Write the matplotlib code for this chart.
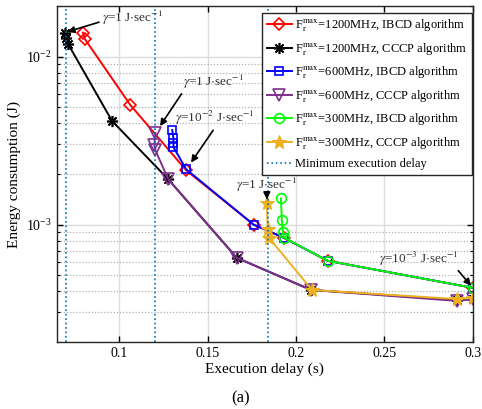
import numpy as np
import matplotlib
matplotlib.use("Agg")
import matplotlib.pyplot as plt
from matplotlib.ticker import LogLocator, NullFormatter, FixedLocator

plt.rcParams['font.family'] = 'serif'
plt.rcParams['font.serif'] = ['Liberation Serif', 'DejaVu Serif']
plt.rcParams['mathtext.fontset'] = 'stix'

# data
ibcd_1200_delay = [0.0795, 0.0807, 0.1063, 0.138, 0.176, 0.193, 0.218, 0.3]
ibcd_1200_energy = [0.0139, 0.0127, 0.00516, 0.0021, 0.00100, 0.000836, 0.000608, 0.00042]

cccp_1200_delay = [0.0693, 0.0699, 0.071, 0.096, 0.1278, 0.1665, 0.2085, 0.291, 0.3]
cccp_1200_energy = [0.0139, 0.0130, 0.01197, 0.00414, 0.00186, 0.000634, 0.000408, 0.000356, 0.00036]

ibcd_600_delay = [0.130, 0.1307, 0.1307, 0.1307, 0.138, 0.176, 0.193, 0.218, 0.3]
ibcd_600_energy = [0.00366, 0.00327, 0.00305, 0.00289, 0.00213, 0.00100, 0.000836, 0.000608, 0.00042]

cccp_600_delay = [0.1205, 0.1199, 0.1205, 0.1278, 0.1665, 0.2085, 0.291, 0.3]
cccp_600_energy = [0.00351, 0.00297, 0.00277, 0.00186, 0.000634, 0.000408, 0.000351, 0.00036]

ibcd_300_delay = [0.1915, 0.192, 0.1926, 0.1932, 0.218, 0.3]
ibcd_300_energy = [0.00143, 0.00106, 0.000908, 0.000836, 0.000608, 0.00042]

cccp_300_delay = [0.1835, 0.184, 0.1847, 0.209, 0.291, 0.3]
cccp_300_energy = [0.001336, 0.000946, 0.000836, 0.000408, 0.00036, 0.000367]

min_delays = [0.0699, 0.1205, 0.184]

fig = plt.figure(figsize=(4.82, 4.09), dpi=100)
ax = fig.add_axes([0.118, 0.164, 0.863, 0.821])

lw = 1.4
ax.plot(ibcd_1200_delay, ibcd_1200_energy, color='#FF0000', lw=lw, marker='D', ms=6,
        mfc='none', mew=1.2, label=r'F$_\mathrm{r}^\mathrm{max}$=1200MHz, IBCD algorithm')
ax.plot(cccp_1200_delay, cccp_1200_energy, color='black', lw=lw, marker=(8, 2, 0), ms=8,
        mew=1.2, label=r'F$_\mathrm{r}^\mathrm{max}$=1200MHz, CCCP algorithm')
ax.plot(ibcd_600_delay, ibcd_600_energy, color='#0000FF', lw=lw, marker='s', ms=6,
        mfc='none', mew=1.2, label=r'F$_\mathrm{r}^\mathrm{max}$=600MHz, IBCD algorithm')
ax.plot(cccp_600_delay, cccp_600_energy, color='#7E2F8E', lw=lw, marker='v', ms=8,
        mfc='none', mew=1.2, label=r'F$_\mathrm{r}^\mathrm{max}$=600MHz, CCCP algorithm')
ax.plot(ibcd_300_delay, ibcd_300_energy, color='#00FF00', lw=lw, marker='o', ms=7,
        mfc='none', mew=1.2, label=r'F$_\mathrm{r}^\mathrm{max}$=300MHz, IBCD algorithm')
ax.plot(cccp_300_delay, cccp_300_energy, color='#EDB120', lw=lw, marker='*', ms=10,
        mew=0.8, label=r'F$_\mathrm{r}^\mathrm{max}$=300MHz, CCCP algorithm')
for i, d in enumerate(min_delays):
    ax.axvline(d, color='#0072BD', ls=':', lw=1.2,
               label='Minimum execution delay' if i == 0 else None)

ax.set_yscale('log')
ax.set_xlim(0.0648, 0.3)
ax.set_ylim(2e-4, 2e-2)
ax.xaxis.set_major_locator(FixedLocator([0.1, 0.15, 0.2, 0.25, 0.3]))
ax.set_xticklabels(['0.1', '0.15', '0.2', '0.25', '0.3'])
ax.yaxis.set_major_locator(LogLocator(base=10))
ax.yaxis.set_minor_locator(LogLocator(base=10, subs=np.arange(2, 10)))
ax.yaxis.set_minor_formatter(NullFormatter())

ax.grid(True, which='major', color='#dcdcdc', lw=1.0, ls='-')
ax.grid(True, which='minor', axis='y', color='#b0b0b0', lw=0.9, ls=(0, (1, 1.5)))
ax.set_axisbelow(True)
ax.tick_params(which='both', direction='in', top=True, right=True, labelsize=10)
ax.tick_params(which='major', length=4, width=1)
ax.tick_params(which='minor', length=2.5, width=0.8)
for s in ax.spines.values():
    s.set_linewidth(1.0)
    s.set_color('#262626')

ax.set_xlabel('Execution delay (s)', fontsize=11, labelpad=2)
ax.set_ylabel('Energy consumption (J)', fontsize=11, labelpad=4)
fig.text(0.5, 0.027, '(a)', ha='center', va='center', fontsize=12)

arrow = dict(arrowstyle='-|>', color='black', lw=1.2, mutation_scale=10, shrinkA=0, shrinkB=2)
tc = '#333333'
fs = 9.5
ax.annotate(r'$\gamma$=1 J$\cdot$sec$^{-1}$', xy=(cccp_1200_delay[0], cccp_1200_energy[0]),
            xytext=(37, 15), textcoords='offset pixels', ha='left', va='center', fontsize=fs,
            color=tc, arrowprops=dict(arrow, relpos=(0, 0.3)))
ax.annotate(r'$\gamma$=1 J$\cdot$sec$^{-1}$', xy=(cccp_600_delay[0], cccp_600_energy[0]),
            xytext=(28, 51), textcoords='offset pixels', ha='left', va='center', fontsize=fs,
            color=tc, arrowprops=dict(arrow, relpos=(0, 0), shrinkB=6))
ax.annotate(r'$\gamma$=10$^{-2}$ J$\cdot$sec$^{-1}$', xy=(ibcd_600_delay[4], ibcd_600_energy[4]),
            xytext=(-11, 51), textcoords='offset pixels', ha='left', va='center', fontsize=fs,
            color=tc, arrowprops=dict(arrow, relpos=(0.5, 0), shrinkB=6))
ax.annotate(r'$\gamma$=1 J$\cdot$sec$^{-1}$', xy=(cccp_300_delay[0], cccp_300_energy[0]),
            xytext=(0, 18), textcoords='offset pixels', ha='center', va='center', fontsize=fs,
            color=tc, arrowprops=dict(arrow, relpos=(0.5, 0), shrinkB=3))
ax.annotate(r'$\gamma$=10$^{-3}$ J$\cdot$sec$^{-1}$', xy=(ibcd_300_delay[-1], ibcd_300_energy[-1]),
            xytext=(-94, 29), textcoords='offset pixels', ha='left', va='center', fontsize=fs,
            color=tc, arrowprops=dict(arrow, relpos=(0.97, 0), shrinkB=2))

leg = ax.legend(loc='upper right', bbox_to_anchor=(0.998, 0.979), fontsize=9,
                handlelength=2.0, handletextpad=0.3, labelspacing=0.55, borderpad=0.35,
                borderaxespad=0, fancybox=False, framealpha=1, edgecolor='#262626')
leg.get_frame().set_linewidth(1.0)

fig.savefig('out.png', dpi=100)
